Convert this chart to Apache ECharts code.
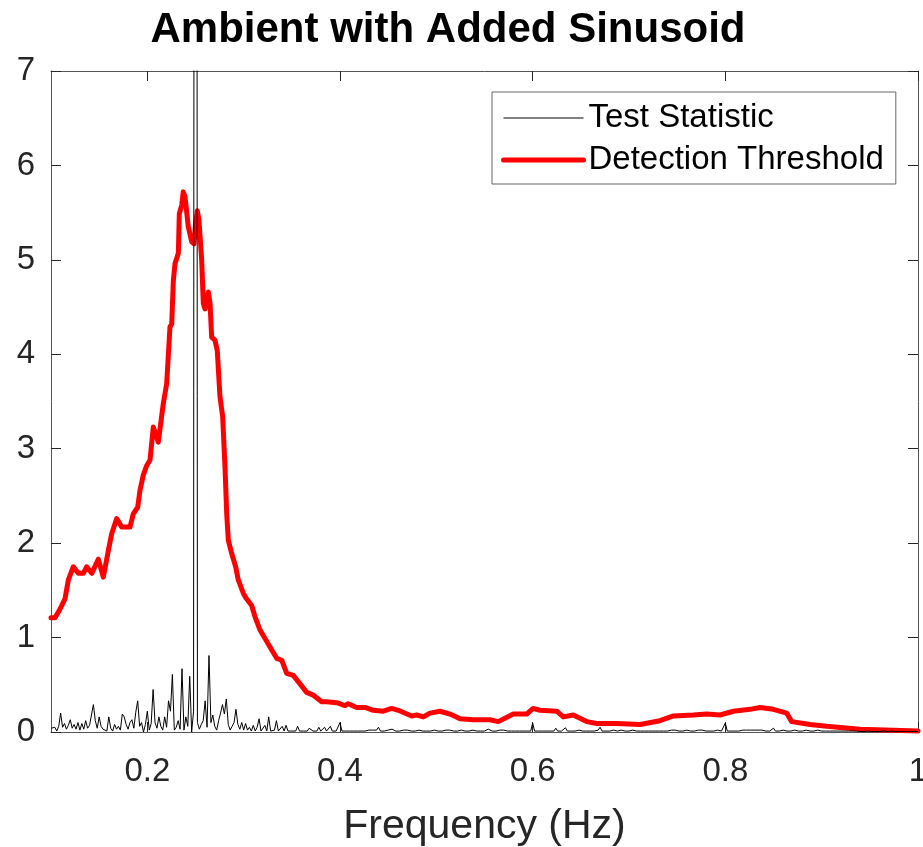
<!DOCTYPE html>
<html>
<head>
<meta charset="utf-8">
<script src="https://cdn.jsdelivr.net/npm/echarts@6/dist/echarts.min.js"></script>
<style>html,body{margin:0;padding:0;background:#fff}#c{width:923px;height:847px}</style>
</head>
<body>
<div id="c"></div>
<script>
// ---- data ----
const titleText = 'Ambient with Added Sinusoid';
const xAxisName = 'Frequency (Hz)';
const seriesNames = ['Test Statistic', 'Detection Threshold'];
const xTicks = [0.2, 0.4, 0.6, 0.8, 1];
const yTicks = [0, 1, 2, 3, 4, 5, 6, 7];

// Test statistic: frequency grid 0.100 .. 1.000, step 0.002
const tsFreqStart = 0.1;
const tsFreqStep = 0.002;
const testStat = [
  0.04,0.02,0.05,0.01,0.06,0.20,0.05,0.09,0.03,0.07,
  0.13,0.04,0.08,0.03,0.10,0.02,0.09,0.03,0.12,0.04,
  0.07,0.05,0.29,0.12,0.04,0.16,0.06,0.03,0.05,0.01,
  0.16,0.04,0.01,0.08,0.03,0.06,0.02,0.19,0.16,0.08,
  0.03,0.10,0.13,0.04,0.21,0.33,0.06,0.10,0.00,0.08,
  0.22,0.02,0.09,0.45,0.10,0.04,0.16,0.06,0.02,0.16,
  0.05,0.33,0.22,0.61,0.02,0.05,0.12,0.03,0.67,0.02,
  0.16,0.06,0.59,0.00,0.22,40.0,0.10,0.03,0.08,0.12,
  0.33,0.05,0.81,0.10,0.18,0.06,0.02,0.12,0.20,0.29,
  0.19,0.35,0.08,0.02,0.06,0.10,0.24,0.08,0.03,0.10,
  0.02,0.09,0.02,0.05,0.01,0.07,0.01,0.05,0.14,0.01,
  0.03,0.07,0.01,0.16,0.01,0.03,0.02,0.12,0.01,0.02,
  0.06,0.01,0.07,0.01,0.02,0.01,0.02,0.01,0.06,0.01,
  0.02,0.01,0.02,0.01,0.04,0.02,0.01,0.02,0.01,0.05,
  0.01,0.02,0.05,0.01,0.02,0.06,0.01,0.02,0.01,0.02,
  0.10,0.01,0.02,0.01,0.03,0.01,0.02,0.01,0.02,0.01,
  0.02,0.01,0.03,0.01,0.01,0.02,0.01,0.02,0.01,0.02,
  0.05,0.01,0.02,0.01,0.01,0.02,0.01,0.03,0.01,0.01,
  0.02,0.01,0.01,0.02,0.01,0.02,0.01,0.01,0.02,0.01,
  0.01,0.02,0.01,0.01,0.02,0.01,0.02,0.01,0.01,0.02,
  0.01,0.01,0.02,0.01,0.01,0.02,0.01,0.02,0.01,0.01,
  0.02,0.01,0.01,0.02,0.01,0.01,0.02,0.01,0.01,0.02,
  0.01,0.01,0.02,0.01,0.02,0.01,0.01,0.03,0.01,0.01,
  0.02,0.01,0.01,0.02,0.01,0.02,0.01,0.01,0.02,0.01,
  0.02,0.01,0.02,0.01,0.03,0.01,0.02,0.01,0.02,0.01,
  0.095,0.01,0.02,0.01,0.03,0.01,0.02,0.01,0.02,0.01,
  0.02,0.01,0.04,0.01,0.02,0.01,0.02,0.045,0.01,0.02,
  0.01,0.02,0.01,0.01,0.02,0.01,0.01,0.02,0.01,0.01,
  0.01,0.02,0.01,0.01,0.02,0.05,0.01,0.02,0.01,0.01,
  0.01,0.01,0.02,0.01,0.01,0.01,0.02,0.01,0.01,0.01,
  0.01,0.01,0.02,0.01,0.01,0.01,0.01,0.02,0.01,0.01,
  0.01,0.02,0.01,0.01,0.01,0.02,0.01,0.01,0.01,0.02,
  0.01,0.01,0.02,0.01,0.02,0.01,0.01,0.02,0.01,0.01,
  0.02,0.01,0.01,0.02,0.01,0.01,0.02,0.01,0.02,0.01,
  0.01,0.02,0.01,0.02,0.01,0.01,0.02,0.01,0.01,0.02,
  0.095,0.01,0.02,0.01,0.02,0.01,0.02,0.01,0.01,0.02,
  0.01,0.02,0.01,0.02,0.01,0.02,0.01,0.02,0.01,0.02,
  0.03,0.01,0.02,0.01,0.02,0.04,0.01,0.02,0.01,0.01,
  0.02,0.03,0.01,0.02,0.01,0.01,0.02,0.01,0.01,0.01,
  0.01,0.01,0.02,0.01,0.01,0.01,0.01,0.01,0.02,0.01,
  0.01,0.01,0.01,0.01,0.01,0.01,0.01,0.01,0.01,0.01,
  0.01,0.005,0.01,0.005,0.01,0.005,0.01,0.005,0.01,0.005,
  0.005,0.01,0.005,0.005,0.01,0.005,0.005,0.01,0.005,0.005,
  0.005,0.005,0.01,0.005,0.005,0.005,0.01,0.005,0.005,0.005,
  0.005,0.005,0.005,0.01,0.005,0.005,0.005,0.005,0.005,0.005,0.005
];

// Detection threshold (frequency, value)
const thrFreq = [
  0.1000,0.1042,0.1093,0.1145,0.1180,0.1232,0.1283,0.1335,0.1371,0.1423,
  0.1491,0.1543,0.1595,0.1630,0.1682,0.1734,0.1820,0.1854,0.1900,0.1924,
  0.1958,0.1993,0.2028,0.2062,0.2114,0.2166,0.2201,0.2235,0.2253,0.2270,
  0.2287,0.2322,0.2332,0.2357,0.2373,0.2391,0.2425,0.2461,0.2484,0.2505,
  0.2519,0.2536,0.2564,0.2581,0.2599,0.2616,0.2633,0.2651,0.2668,0.2702,
  0.2726,0.2754,0.2782,0.2806,0.2824,0.2841,0.2876,0.2917,0.2944,0.2996,
  0.3024,0.3083,0.3118,0.3170,0.3222,0.3273,0.3343,0.3395,0.3447,0.3515,
  0.3585,0.3654,0.3723,0.3810,0.3862,0.3966,0.4052,0.4086,0.4173,0.4260,
  0.4346,0.4450,0.4537,0.4605,0.4744,0.4796,0.4865,0.4934,0.5038,0.5142,
  0.5246,0.5384,0.5557,0.5643,0.5799,0.5938,0.6004,0.6076,0.6250,0.6318,
  0.6422,0.6561,0.6665,0.6873,0.7114,0.7322,0.7460,0.7668,0.7807,0.7945,
  0.8083,0.8256,0.8360,0.8498,0.8637,0.8689,0.8879,0.9052,0.9398,1.0000
];
const thrValue = [
  1.21,1.21,1.30,1.41,1.61,1.75,1.68,1.68,1.75,1.68,
  1.83,1.64,1.92,2.10,2.26,2.17,2.17,2.31,2.38,2.56,
  2.72,2.82,2.88,3.23,3.07,3.48,3.69,4.29,4.32,4.78,
  4.96,5.07,5.49,5.58,5.72,5.67,5.35,5.19,5.17,5.42,
  5.52,5.42,5.00,4.54,4.48,4.50,4.66,4.54,4.18,4.15,
  4.04,3.55,3.34,2.81,2.31,2.03,1.89,1.75,1.61,1.47,
  1.42,1.34,1.22,1.08,0.99,0.90,0.78,0.76,0.62,0.60,
  0.51,0.42,0.39,0.32,0.32,0.31,0.28,0.30,0.26,0.26,
  0.23,0.22,0.25,0.23,0.17,0.18,0.16,0.20,0.22,0.19,
  0.14,0.13,0.13,0.11,0.19,0.19,0.25,0.23,0.22,0.16,
  0.18,0.11,0.09,0.09,0.08,0.12,0.17,0.18,0.19,0.18,
  0.22,0.24,0.26,0.24,0.20,0.11,0.08,0.06,0.03,0.01
];

// ---- chart ----
const tsData = testStat.map((v, i) => [+(tsFreqStart + i * tsFreqStep).toFixed(3), v]);
const thrData = thrFreq.map((f, i) => [f, thrValue[i]]);

const axisColor = '#262626';
const frameColor = '#555555';
const fontFam = '"Liberation Sans", Arial, sans-serif';

const chart = echarts.init(document.getElementById('c'), null, {renderer: 'canvas'});
chart.setOption({
  animation: false,
  backgroundColor: '#fff',
  title: {
    text: titleText,
    left: 443, top: 4, textAlign: 'center',
    textStyle: {fontFamily: fontFam, fontWeight: 'bold', fontSize: 42, color: '#000'}
  },
  grid: {left: 51, right: 5, top: 71, bottom: 115, containLabel: false, outerBoundsMode: 'none'},
  legend: {
    show: true,
    orient: 'vertical',
    left: 492, top: 92,
    padding: [9, 12, 7, 9],
    itemGap: 8,
    itemWidth: 80, itemHeight: 14,
    backgroundColor: '#fff',
    borderColor: '#666', borderWidth: 1, borderRadius: 0,
    textStyle: {fontFamily: fontFam, fontSize: 33, color: '#000', lineHeight: 34},
    data: [
      {name: seriesNames[0], itemStyle: {opacity: 0}, lineStyle: {color: '#000', width: 1}},
      {name: seriesNames[1], itemStyle: {opacity: 0}, lineStyle: {color: '#f00', width: 5}}
    ]
  },
  xAxis: [
    {
      type: 'value', min: 0.1, max: 1, position: 'bottom',
      name: xAxisName, nameLocation: 'middle', nameGap: 74,
      nameTextStyle: {fontFamily: fontFam, fontSize: 41, color: axisColor},
      axisLine: {show: true, onZero: false, lineStyle: {color: frameColor, width: 1}},
      axisTick: {show: true, inside: true, length: 10, customValues: xTicks, lineStyle: {color: axisColor, width: 1}},
      axisLabel: {show: true, customValues: xTicks, margin: 23, fontFamily: fontFam, fontSize: 33, color: axisColor,
        formatter: v => String(+v.toFixed(1))},
      splitLine: {show: false}
    },
    {
      type: 'value', min: 0.1, max: 1, position: 'top',
      axisLine: {show: true, onZero: false, lineStyle: {color: frameColor, width: 1}},
      axisTick: {show: true, inside: true, length: 10, customValues: xTicks, lineStyle: {color: axisColor, width: 1}},
      axisLabel: {show: false},
      splitLine: {show: false}
    }
  ],
  yAxis: [
    {
      type: 'value', min: 0, max: 7, interval: 1, position: 'left',
      axisLine: {show: true, onZero: false, lineStyle: {color: frameColor, width: 1}},
      axisTick: {show: true, inside: true, length: 10, lineStyle: {color: axisColor, width: 1}},
      axisLabel: {show: true, margin: 16, fontFamily: fontFam, fontSize: 33, color: axisColor},
      splitLine: {show: false}
    },
    {
      type: 'value', min: 0, max: 7, interval: 1, position: 'right',
      axisLine: {show: true, onZero: false, lineStyle: {color: frameColor, width: 1}},
      axisTick: {show: true, inside: true, length: 10, lineStyle: {color: axisColor, width: 1}},
      axisLabel: {show: false},
      splitLine: {show: false}
    }
  ],
  series: [
    {
      name: seriesNames[0], type: 'line', xAxisIndex: 0, yAxisIndex: 0,
      data: tsData, showSymbol: false, symbol: 'none', clip: true, z: 4,
      lineStyle: {color: '#000', width: 1}, itemStyle: {color: '#000'}
    },
    {
      name: seriesNames[1], type: 'line', xAxisIndex: 0, yAxisIndex: 0,
      data: thrData, showSymbol: false, symbol: 'none', clip: true, z: 3,
      lineStyle: {color: '#f00', width: 5, join: 'round', cap: 'round'}, itemStyle: {color: '#f00'}
    }
  ]
});
</script>
</body>
</html>
